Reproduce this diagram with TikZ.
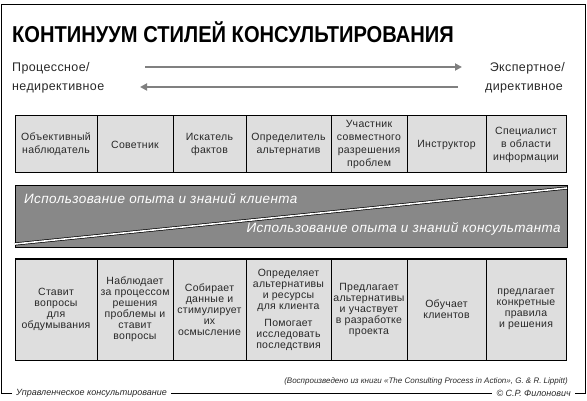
\documentclass[tikz,border=0pt]{standalone}
\usepackage{fontspec}
\usepackage{graphicx}
\setmainfont{Liberation Sans}
\usetikzlibrary{arrows.meta}
\definecolor{cellfill}{RGB}{222,222,222}
\definecolor{bandfill}{RGB}{136,136,136}
\definecolor{arrgray}{RGB}{128,128,128}
\definecolor{txt}{RGB}{40,40,40}
\tikzset{
  cell/.style={draw=black, line width=1pt, fill=cellfill, align=center, inner sep=0pt,
    text=txt, font=\fontsize{10.5}{13}\selectfont\addfontfeatures{LetterSpace=3}},
  topcell/.style={cell, minimum height=57pt},
  botcell/.style={cell, minimum height=101pt, font=\fontsize{10.5}{11}\selectfont\addfontfeatures{LetterSpace=2.5}},
  side/.style={inner sep=0pt, text=txt, font=\fontsize{12.5}{14}\selectfont\addfontfeatures{LetterSpace=3}},
  arr/.style={line width=2.6pt, draw=arrgray, -{Triangle[length=7pt,width=7pt]}},
  bandtext/.style={inner sep=0pt, text=white, font=\itshape\fontsize{13.5}{15}\selectfont\addfontfeatures{LetterSpace=3}},
  foot/.style={inner sep=4pt, text=txt, font=\itshape\fontsize{9}{10}\selectfont},
  frame/.style={draw=black, line width=0.9pt},
}
\begin{document}
\begin{tikzpicture}[x=1pt, y=-1pt]
\useasboundingbox (0,0) rectangle (587,401);
% title
\node[anchor=west, inner sep=0pt, font=\bfseries\fontsize{23}{26}\selectfont] (title) at (12,32)
  {\scalebox{0.875}[1]{КОНТИНУУМ СТИЛЕЙ КОНСУЛЬТИРОВАНИЯ}};
% side labels
\node[side, anchor=west] (lp1) at (12,68) {Процессное/};
\node[side, anchor=west] (lp2) at (12,88) {недирективное};
\node[side, anchor=east] (rp1) at (565,68) {Экспертное/};
\node[side, anchor=east] (rp2) at (563,88) {директивное};
\coordinate (a1s) at (145,67);
\coordinate (a1e) at (462,67);
\coordinate (a2s) at (458,87);
\coordinate (a2e) at (140,87);
\draw[arr] (a1s) -- (a1e);
\draw[arr] (a2s) -- (a2e);
% top row
\node[topcell, minimum width=82pt] (t1) at (56,144.5) {Объективный\\наблюдатель};
\node[topcell, minimum width=76pt] (t2) at (135,144.5) {Советник};
\node[topcell, minimum width=73pt] (t3) at (209.5,144.5) {Искатель\\фактов};
\node[topcell, minimum width=85pt] (t4) at (288.5,144.5) {Определитель\\альтернатив};
\node[topcell, minimum width=76pt] (t5) at (369,144.5) {Участник\\совместного\\разрешения\\проблем};
\node[topcell, minimum width=79pt] (t6) at (446.5,144.5) {Инструктор};
\node[topcell, minimum width=80pt] (t7) at (526,144.5) {Специалист\\в области\\информации};
% band
\node[draw=black, line width=1pt, fill=bandfill, minimum width=552pt, minimum height=62pt, inner sep=0pt] (band) at (291,217) {};
\coordinate (dl) at (15,244);
\coordinate (dr) at (567,188);
\draw[draw=black, line width=0.7pt, double=white, double distance=1.6pt] (dl) -- (dr);
\node[bandtext, anchor=west] (bt1) at (24,199) {Использование опыта и знаний клиента};
\node[bandtext, anchor=east] (bt2) at (561,229) {Использование опыта и знаний консультанта};
% bottom row
\node[botcell, minimum width=82pt] (b1) at (56,309.5) {Ставит\\вопросы\\для\\обдумывания};
\node[botcell, minimum width=76pt] (b2) at (135,309.5) {Наблюдает\\за процессом\\решения\\проблемы и\\ставит\\вопросы};
\node[botcell, minimum width=73pt] (b3) at (209.5,309.5) {Собирает\\данные и\\стимулирует\\их\\осмысление};
\node[botcell, minimum width=85pt] (b4) at (288.5,309.5) {Определяет\\альтернативы\\и ресурсы\\для клиента\\[6pt]Помогает\\исследовать\\последствия};
\node[botcell, minimum width=76pt] (b5) at (369,309.5) {Предлагает\\альтернативы\\и участвует\\в разработке\\проекта};
\node[botcell, minimum width=79pt] (b6) at (446.5,309.5) {Обучает\\клиентов};
\node[botcell, minimum width=80pt] (b7) at (526,309.5) {предлагает\\конкретные\\правила\\и решения};
% footer
\node[inner sep=0pt, anchor=east, text=txt, font=\itshape\fontsize{8}{9}\selectfont] (src) at (568,381)
  {(Воспроизведено из книги «The Consulting Process in Action», G. \& R. Lippitt)};
\node[foot, anchor=west] (fl) at (12,393) {Управленческое консультирование};
\node[foot, anchor=east] (fr) at (575,393) {© С.Р. Филонович};
\draw[frame] (fl.east) -- (fr.west);
\draw[frame] (fl.west) -- (1.5,393) -- (1.5,4) -- (585,4) -- (585,393) -- (fr.east);
\end{tikzpicture}
\end{document}
